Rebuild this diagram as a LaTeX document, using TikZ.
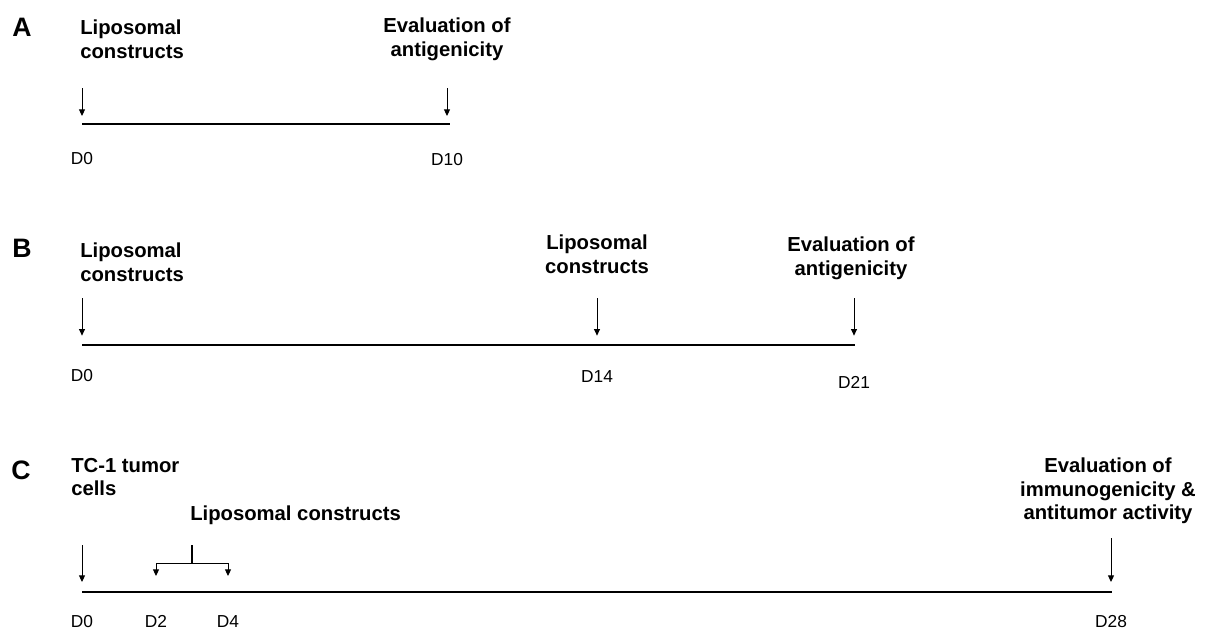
\documentclass[tikz,border=0pt]{standalone}
\usepackage{fontspec}
\setmainfont{Liberation Sans}
\usetikzlibrary{arrows.meta,positioning}

\newcommand{\evtfont}{\fontsize{15.2}{17.6}\selectfont\bfseries}
\newcommand{\dayfont}{\fontsize{13}{15}\selectfont}
\newcommand{\panelfont}{\fontsize{20}{22}\selectfont\bfseries}

\begin{document}
\begin{tikzpicture}[x=0.75pt,y=-0.75pt]
  \tikzset{EventStyle/.style = {font       = \evtfont,
                                inner sep  = 0pt,
                                align      = center},
           DayStyle/.style   = {font       = \dayfont,
                                inner sep  = 0pt},
           PanelStyle/.style = {font       = \panelfont,
                                inner sep  = 0pt},
           TimeLine/.style   = {line width = 0.8pt},
           Shot/.style       = {line width = 0.75pt,
                                -{Triangle[length=5pt, width=4.5pt]}}}
  \useasboundingbox (0,0) rectangle (1205,629);
  %%% PANEL A %%%
  \node[PanelStyle] (pA) at (22,27) {A};
  \coordinate (a0) at (82,124);
  \coordinate (a10) at (447,124);
  \coordinate (aEnd) at (450,124);
  \draw[TimeLine] (a0) -- (aEnd);
  %
  \node[EventStyle, anchor=north west, align=left] (a0txt) at (80,20) {Liposomal\\constructs};
  \node[EventStyle, anchor=north] (a10txt) at (447,18) {Evaluation of\\antigenicity};
  \coordinate[above=27pt of a0] (a0s);
  \coordinate[above=6pt of a0] (a0e);
  \coordinate[above=27pt of a10] (a10s);
  \coordinate[above=6pt of a10] (a10e);
  \draw[Shot] (a0s) -- (a0e);
  \draw[Shot] (a10s) -- (a10e);
  %
  \node[DayStyle, below=20.8pt of a0] (a0d) {D0};
  \node[DayStyle, below=21.5pt of a10] (a10d) {D10};
  %%% PANEL B %%%
  \node[PanelStyle] (pB) at (22,248) {B};
  \coordinate (b0) at (82,345);
  \coordinate (b14) at (597,345);
  \coordinate (b21) at (854,345);
  \coordinate (bEnd) at (855,345);
  \draw[TimeLine] (b0) -- (bEnd);
  %
  \node[EventStyle, anchor=north west, align=left] (b0txt) at (80,243) {Liposomal\\constructs};
  \node[EventStyle, anchor=north] (b14txt) at (597,235) {Liposomal\\constructs};
  \node[EventStyle, anchor=north] (b21txt) at (851,237) {Evaluation of\\antigenicity};
  \coordinate[above=35pt of b0] (b0s);
  \coordinate[above=7pt of b0] (b0e);
  \coordinate[above=35pt of b14] (b14s);
  \coordinate[above=7pt of b14] (b14e);
  \coordinate[above=35pt of b21] (b21s);
  \coordinate[above=7pt of b21] (b21e);
  \draw[Shot] (b0s) -- (b0e);
  \draw[Shot] (b14s) -- (b14e);
  \draw[Shot] (b21s) -- (b21e);
  %
  \node[DayStyle, below=17.9pt of b0] (b0d) {D0};
  \node[DayStyle, below=18.6pt of b14] (b14d) {D14};
  \node[DayStyle, below=23pt of b21] (b21d) {D21};
  %%% PANEL C %%%
  \node[PanelStyle] (pC) at (21,470) {C};
  \coordinate (c0) at (82,592);
  \coordinate (c2) at (156,592);
  \coordinate (c4) at (228,592);
  \coordinate (c28) at (1111,592);
  \coordinate (cEnd) at (1112,592);
  \draw[TimeLine] (c0) -- (cEnd);
  %
  \node[EventStyle, anchor=north west, align=left] (c0txt) at (71,458) {TC-1 tumor\\cells};
  \node[EventStyle, anchor=north west] (c2txt) at (190,506) {Liposomal constructs};
  \node[EventStyle, anchor=north] (c28txt) at (1108,458) {Evaluation of\\immunogenicity \&\\antitumor activity};
  \coordinate[above=35pt of c0] (c0s);
  \coordinate[above=7.5pt of c0] (c0e);
  \coordinate[above=40.5pt of c28] (c28s);
  \coordinate[above=7.5pt of c28] (c28e);
  \draw[Shot] (c0s) -- (c0e);
  \draw[Shot] (c28s) -- (c28e);
  % fork for the two doses
  \coordinate (cfork) at (192,563);
  \coordinate[above=13.5pt of cfork] (cstem);
  \coordinate[above=12pt of c2] (c2e);
  \coordinate[above=12pt of c4] (c4e);
  \draw[TimeLine] (cstem) -- (cfork);
  \draw[Shot] (cfork) -| (c2e);
  \draw[Shot] (cfork) -| (c4e);
  %
  \node[DayStyle, below=17.2pt of c0] (c0d) {D0};
  \node[DayStyle, below=17.2pt of c2] (c2d) {D2};
  \node[DayStyle, below=17.2pt of c4] (c4d) {D4};
  \node[DayStyle, below=17.2pt of c28] (c28d) {D28};
\end{tikzpicture}
\end{document}
